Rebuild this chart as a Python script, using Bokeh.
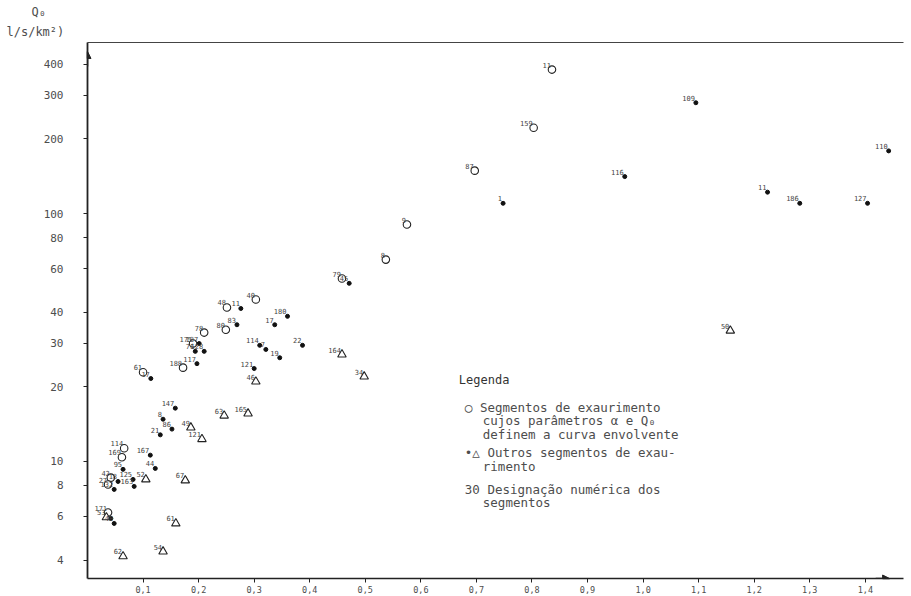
from bokeh.plotting import figure
from bokeh.models import (FixedTicker, CustomJSTickFormatter, LinearAxis, Label, Title,
                          Arrow, NormalHead, ColumnDataSource)
from bokeh.core.properties import value
from bokeh.embed import file_html
from bokeh.resources import INLINE

# ---------------- data (alpha , Q0 in l/s/km2) ----------------
# open circles: segments whose parameters define the envelope curve
circ_lab = ["11", "159", "87", "9", "8", "79", "48", "40", "80", "78", "175", "188",
            "61", "114", "169", "42", "27", "171"]
circ_x = [0.836, 0.803, 0.697, 0.575, 0.537, 0.458, 0.251, 0.303, 0.249, 0.210, 0.190,
          0.172, 0.100, 0.066, 0.062, 0.042, 0.037, 0.037]
circ_y = [381, 222, 149, 90.3, 65.2, 54.7, 41.8, 45.0, 34.0, 33.1, 29.9, 23.9, 22.9,
          11.3, 10.4, 8.6, 8.07, 6.22]

# open triangles: other segments
tri_lab = ["50", "63", "165", "49", "121", "67", "52", "53", "61", "62", "54", "46",
           "164", "34"]
tri_x = [1.157, 0.246, 0.289, 0.186, 0.206, 0.176, 0.105, 0.034, 0.159, 0.064, 0.136,
         0.303, 0.458, 0.498]
tri_y = [33.7, 15.3, 15.6, 13.7, 12.3, 8.38, 8.46, 5.95, 5.62, 4.14, 4.33, 21.0, 27.0,
         22.0]

# filled dots: other segments
dot_lab = ["109", "110", "116", "1", "11", "186", "127", "45", "11", "83", "17", "180",
           "187", "76", "128", "117", "17", "114", "7", "22", "19", "121", "147", "8",
           "21", "86", "167", "95", "18", "125", "163", "132", "44", "40", ""]
dot_x = [1.095, 1.442, 0.967, 0.748, 1.224, 1.282, 1.404, 0.471, 0.276, 0.269, 0.337,
         0.360, 0.201, 0.194, 0.210, 0.197, 0.114, 0.310, 0.321, 0.387, 0.346, 0.300,
         0.158, 0.136, 0.131, 0.152, 0.113, 0.064, 0.055, 0.082, 0.084, 0.048, 0.122,
         0.048, 0.042]
dot_y = [280, 179, 141, 110, 122, 110, 110, 52.3, 41.4, 35.6, 35.6, 38.5, 29.9, 27.8,
         27.8, 24.8, 21.6, 29.4, 28.3, 29.4, 26.2, 23.7, 16.4, 14.8, 12.8, 13.5, 10.6,
         9.29, 8.30, 8.46, 7.93, 7.71, 9.37, 5.62, 5.89]

x_ticks = [0.1, 0.2, 0.3, 0.4, 0.5, 0.6, 0.7, 0.8, 0.9, 1.0, 1.1, 1.2, 1.3, 1.4]
y_ticks = [4, 6, 8, 10, 20, 30, 40, 60, 80, 100, 200, 300, 400]

y_title = "Q₀"
y_units = "l/s/km²)"

legend_lines = ["○ Segmentos de exaurimento",
                "cujos parâmetros α e Q₀",
                "definem a curva envolvente",
                "•△ Outros segmentos de exau-",
                "rimento",
                "30 Designação numérica dos",
                "segmentos"]

X_MIN, X_MAX = 0.0, 1.4687
Y_MIN, Y_MAX = 3.37, 490

MONO = value("DejaVu Sans Mono")
INK = "#222222"
GREY = "#4d4d4d"

p = figure(width=911, height=596, x_range=(X_MIN, X_MAX), y_range=(Y_MIN, Y_MAX),
           y_axis_type="log", output_backend="svg", toolbar_location=None,
           min_border_left=87, min_border_right=8, min_border_top=42,
           min_border_bottom=18)
p.grid.visible = False
p.outline_line_color = None
p.background_fill_color = "white"
p.border_fill_color = "white"
p.title.visible = False

# x axis
xa = p.xaxis[0]
xa.ticker = FixedTicker(ticks=x_ticks, minor_ticks=[])
xa.formatter = CustomJSTickFormatter(code="return tick.toFixed(1).replace('.', ',');")
xa.major_tick_in = 0
xa.major_tick_out = 4
xa.minor_tick_out = 0
xa.minor_tick_in = 0
xa.major_label_standoff = 3
xa.major_label_text_font = "DejaVu Sans Mono"
xa.major_label_text_font_size = "8.5px"
xa.major_label_text_color = GREY
xa.axis_line_color = INK
xa.axis_line_width = 1.4
xa.major_tick_line_color = INK

# y axis
ya = p.yaxis[0]
ya.ticker = FixedTicker(ticks=y_ticks, minor_ticks=[])
ya.formatter = CustomJSTickFormatter(code="return tick.toFixed(0);")
ya.major_tick_in = 0
ya.major_tick_out = 4
ya.minor_tick_out = 0
ya.minor_tick_in = 0
ya.major_label_standoff = 20
ya.major_label_text_font = "DejaVu Sans Mono"
ya.major_label_text_font_size = "11px"
ya.major_label_text_color = GREY
ya.axis_line_color = INK
ya.axis_line_width = 1.8
ya.major_tick_line_color = INK

# top frame line
top = LinearAxis(ticker=FixedTicker(ticks=[]), major_tick_out=0, major_tick_in=0,
                 minor_tick_out=0, minor_tick_in=0, major_label_standoff=0,
                 major_label_text_font_size="0px", axis_line_color="#444444",
                 axis_line_width=1.2)
p.add_layout(top, "above")

# y-axis title (two lines, top-left, outside the frame)
p.add_layout(Title(text=y_units, align="left", offset=-81, standoff=8,
                   text_font="DejaVu Sans Mono", text_font_size="12px",
                   text_font_style="normal", text_color=GREY), "above")
p.add_layout(Title(text=y_title, align="left", offset=-56, standoff=0,
                   text_font="DejaVu Sans Mono", text_font_size="12px",
                   text_font_style="normal", text_color=GREY), "above")

# arrows at the axis ends
p.add_layout(Arrow(end=NormalHead(size=7, fill_color=INK, line_color=INK),
                   x_start=X_MIN, y_start=Y_MAX * 0.8, x_end=X_MIN, y_end=Y_MAX * 0.92,
                   line_color=INK, line_width=1.5))
p.add_layout(Arrow(end=NormalHead(size=7, fill_color=INK, line_color=INK),
                   x_start=X_MAX - 0.05, y_start=Y_MIN, x_end=X_MAX - 0.025, y_end=Y_MIN,
                   line_color=INK, line_width=1.5))

# markers
src_c = ColumnDataSource(dict(x=circ_x, y=circ_y, t=circ_lab))
src_t = ColumnDataSource(dict(x=tri_x, y=tri_y, t=tri_lab))
src_d = ColumnDataSource(dict(x=dot_x, y=dot_y, t=dot_lab))

p.scatter("x", "y", source=src_c, marker="circle", size=7.5, fill_color="white",
          line_color=INK, line_width=1.1)
p.scatter("x", "y", source=src_t, marker="triangle", size=8.5, fill_color="white",
          line_color=INK, line_width=1.1)
p.scatter("x", "y", source=src_d, marker="circle", size=4, fill_color="#111111",
          line_color="#111111")

for s in (src_c, src_t, src_d):
    p.text("x", "y", text="t", source=s, text_font=MONO, text_font_size="7px",
           text_color="#444444", text_align="right", text_baseline="bottom",
           x_offset=-1, y_offset=-2)


# page-pixel helpers for the legend text
def px2x(px):
    return (px - 86.4) / 556.0


def py2y(py):
    return 10 ** (1 + (461 - py) / 248.0)


# legend block
p.add_layout(Label(x=px2x(458), y=py2y(380), text="Legenda",
                   text_font="DejaVu Sans Mono", text_font_size="12px",
                   text_color="#333333", text_baseline="middle"))
leg_px = [464, 482, 482, 464, 482, 464, 482]
leg_py = [407, 420, 434, 452, 466, 489, 502]
for t, lx, ly in zip(legend_lines, leg_px, leg_py):
    p.add_layout(Label(x=px2x(lx), y=py2y(ly), text=t, text_font="DejaVu Sans Mono",
                       text_font_size="12.5px", text_color=GREY,
                       text_baseline="middle"))

open("out.html", "w").write(file_html(p, INLINE))
